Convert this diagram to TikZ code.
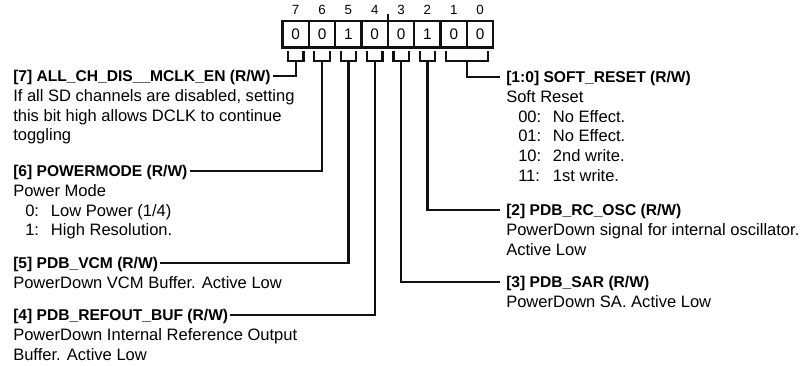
\documentclass[tikz,border=0pt]{standalone}
\usepackage{fontspec}
\setmainfont{Liberation Sans}
\usetikzlibrary{positioning, calc}
\definecolor{regInk}{HTML}{111111}

\begin{document}
\begin{tikzpicture}[x=0.75pt,y=-0.75pt,
  bitbox/.style={draw=regInk,line width=1.7pt,minimum width=19.8pt,minimum height=19.9pt,inner sep=0pt,outer sep=0pt,font=\fontsize{11.5}{13}\selectfont},
  bitnum/.style={inner sep=0pt,font=\fontsize{10}{12}\selectfont},
  lhead/.style={anchor=west,inner xsep=1.5pt,inner ysep=0pt,text height=8.4pt,text depth=0pt,font=\fontsize{11.7}{14}\selectfont\bfseries},
  rhead/.style={lhead,inner xsep=4.5pt},
  desc/.style={anchor=base west,inner sep=0pt,font=\fontsize{12.4}{14.85}\selectfont},
  wire/.style={draw=regInk,line width=1.7pt}]
\useasboundingbox (0,0) rectangle (802,366);
\newcommand{\desclines}[4]{%
  \foreach \txt [count=\k] in {#4}
    \node[desc] (#1-\k) at (#2,#3+5.6+19.8*\k) {\txt};
}
\foreach \b/\v [count=\i from 0] in {7/0,6/0,5/1,4/0,3/0,2/1,1/0,0/0}{
  \node[bitbox] (b\b) at (295.7+26.35*\i,34.3) {\v};
  \node[bitnum] (n\b) at ($(b\b.north)+(0,-11.5)$) {\b};
}
\draw[wire] (b4.north east) -- ++(0,-7);

\node[lhead] (h7) at (11,76) {[7] ALL\_CH\_DIS\_\_MCLK\_EN (R/W)};
\desclines{d7}{13}{76}{{If all SD channels are disabled, setting},{this bit high allows DCLK to continue},{toggling}}
\node[lhead] (h6) at (11,171) {[6] POWERMODE (R/W)};
\desclines{d6}{13}{171}{{Power Mode},{\hspace*{9pt}\makebox[19.3pt][l]{0:}Low Power (1/4)},{\hspace*{9pt}\makebox[19.3pt][l]{1:}High Resolution.}}
\node[lhead] (h5) at (11,263) {[5] PDB\_VCM (R/W)};
\desclines{d5}{13}{263}{{PowerDown VCM Buffer. Active Low}}
\node[lhead] (h4) at (11,315) {[4] PDB\_REFOUT\_BUF (R/W)};
\desclines{d4}{13}{315}{{PowerDown Internal Reference Output},{Buffer. Active Low}}

\node[rhead] (h10) at (500,77) {[1:0] SOFT\_RESET (R/W)};
\desclines{d10}{506}{77}{{Soft Reset},{\hspace*{9pt}\makebox[26pt][l]{00:}No Effect.},{\hspace*{9pt}\makebox[26pt][l]{01:}No Effect.},{\hspace*{9pt}\makebox[26pt][l]{10:}2nd write.},{\hspace*{9pt}\makebox[26pt][l]{11:}1st write.}}
\node[rhead] (h2) at (500,210) {[2] PDB\_RC\_OSC (R/W)};
\desclines{d2}{506}{210}{{PowerDown signal for internal oscillator.},{Active Low}}
\node[rhead] (h3) at (500,282) {[3] PDB\_SAR (R/W)};
\desclines{d3}{506}{282}{{PowerDown SA. Active Low}}

\foreach \b in {7,6,5,4,3,2}
  \draw[wire] ($(b\b.south)+(-7.7,3.5)$) -- ++(0,10) -- ++(15.4,0) -- ++(0,-10);
\draw[wire] ($(b1.south west)+(5.5,3.5)$) -- ++(0,10) -| ($(b0.south east)+(-5.5,3.5)$);
\foreach \b/\a in {7/east,6/east,5/east,4/east,3/west,2/west}
  \draw[wire] ($(b\b.south)+(0,13.5)$) |- (h\b.\a);
\draw[wire] ($(b0.south west)+(0,13.5)$) |- (h10.west);
\end{tikzpicture}
\end{document}
